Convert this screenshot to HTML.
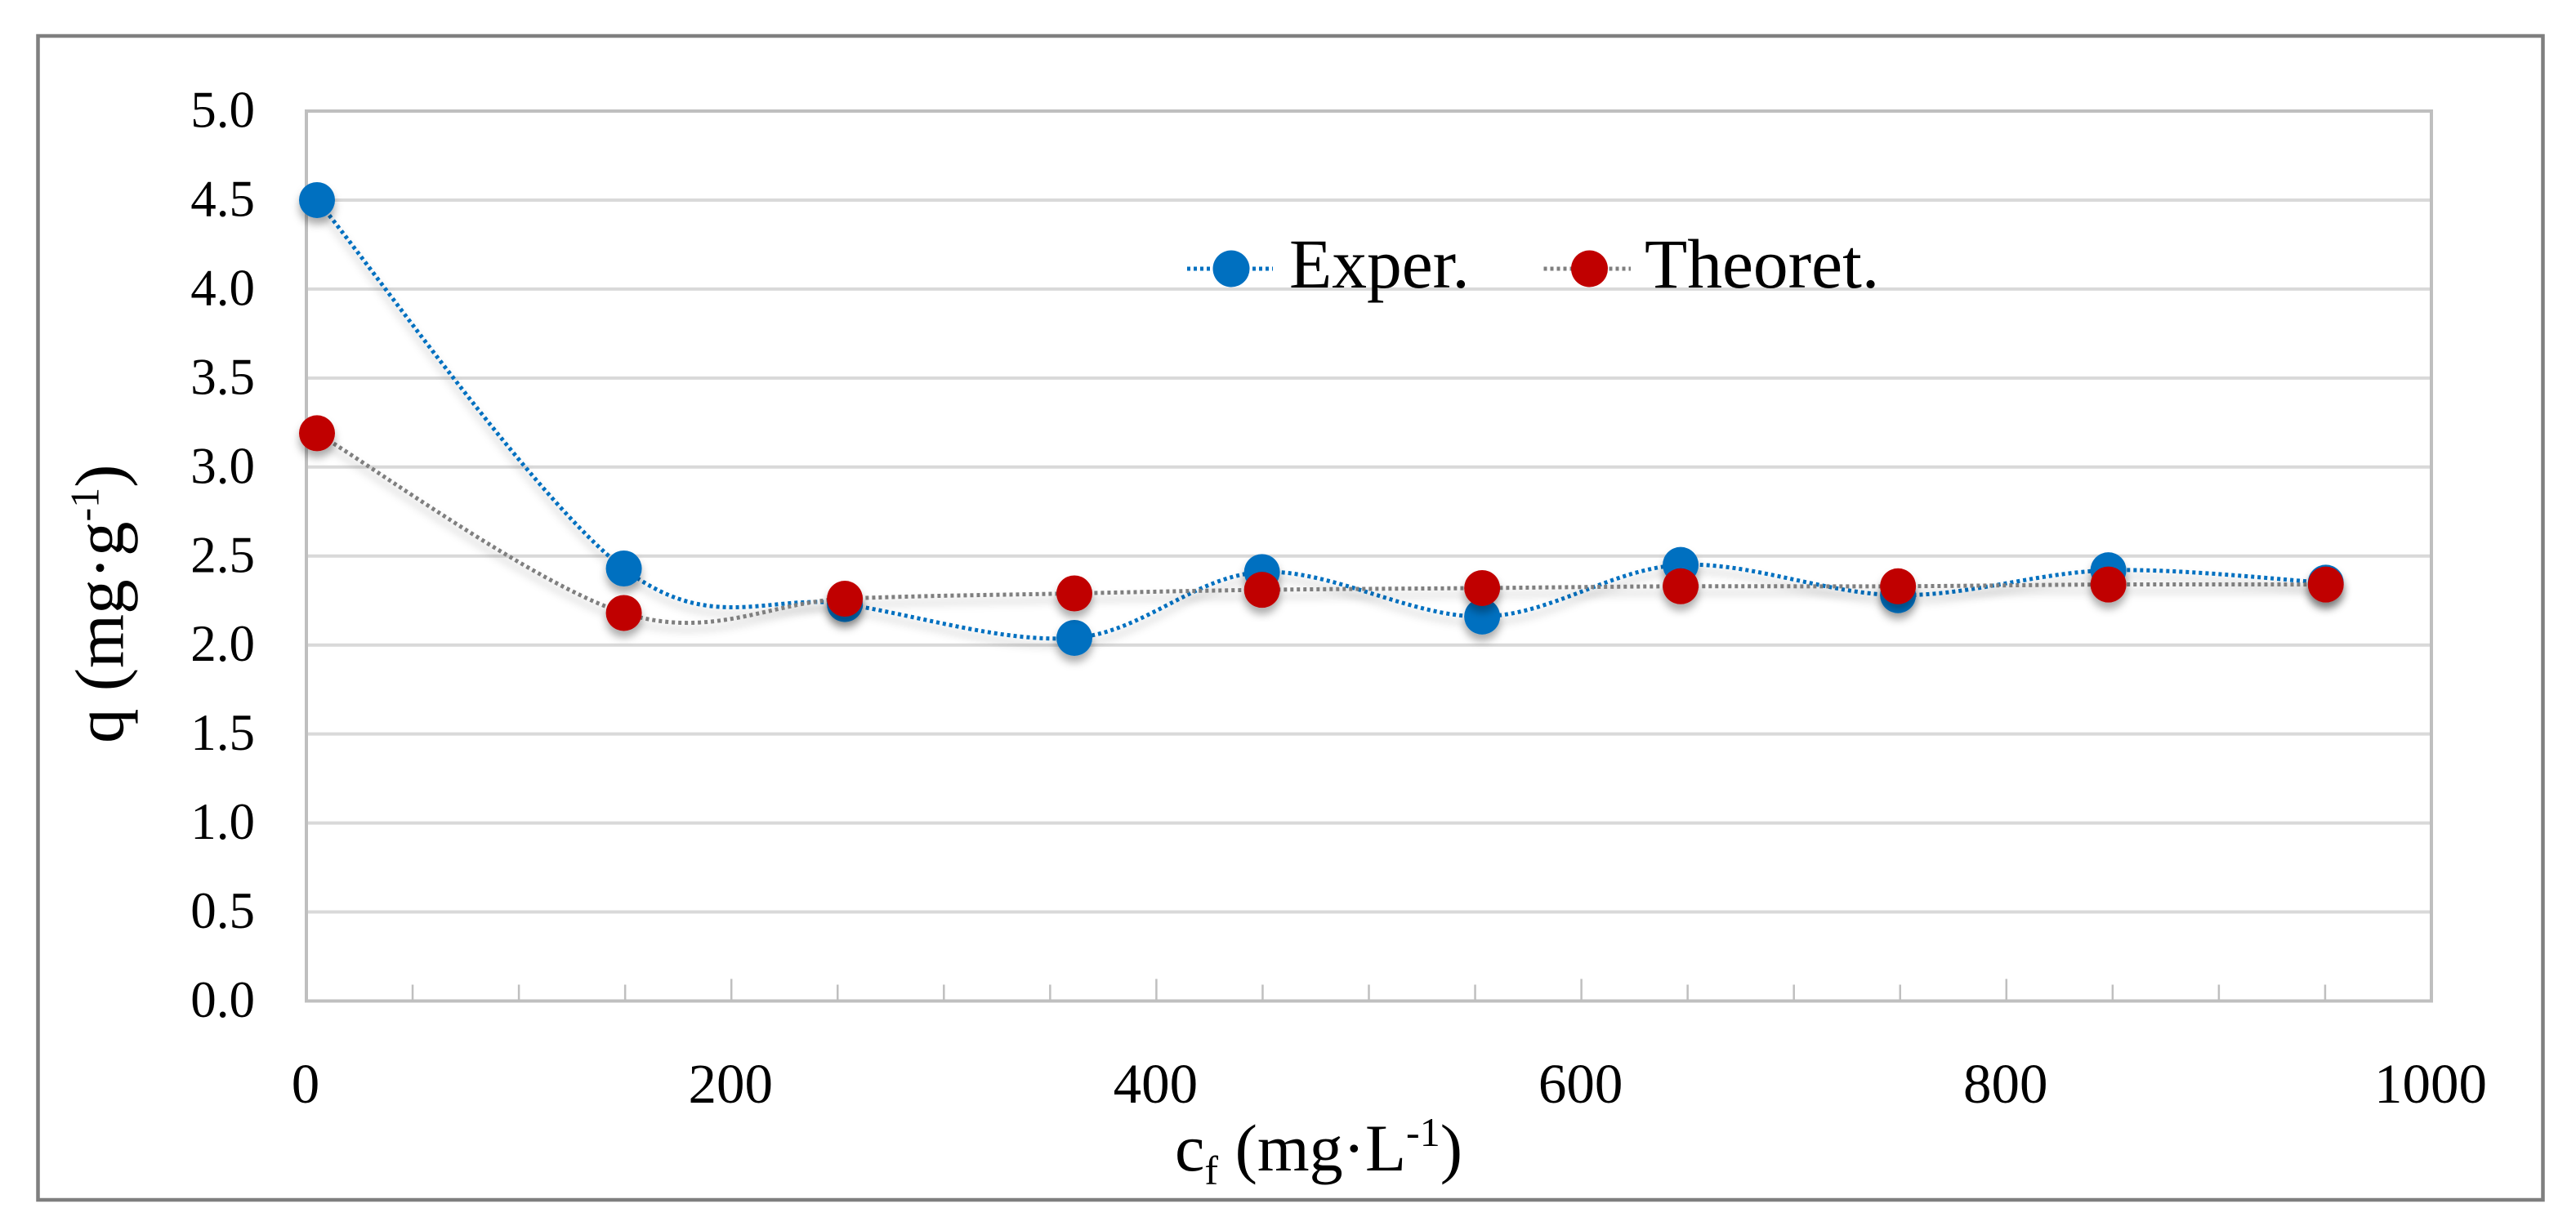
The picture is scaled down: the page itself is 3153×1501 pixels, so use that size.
<!DOCTYPE html>
<html>
<head>
<meta charset="utf-8">
<title>Adsorption chart</title>
<style>
html,body{margin:0;padding:0;background:#fff;width:3153px;height:1501px;overflow:hidden}
svg{display:block}
text{font-family:"Liberation Serif",serif;fill:#000}
</style>
</head>
<body>
<svg id="chart" xmlns="http://www.w3.org/2000/svg" width="3153" height="1501" viewBox="0 0 3153 1501">
<defs>
<filter id="marker-shadow" x="-30%" y="-30%" width="160%" height="170%">
<feDropShadow dx="0" dy="8" stdDeviation="5" flood-color="#000" flood-opacity="0.32"/>
</filter>
</defs>
<rect x="0" y="0" width="3153" height="1501" fill="#fff"/>
<rect x="46.5" y="44" width="3066" height="1425" fill="#fff" stroke="#7f7f7f" stroke-width="4.5"/>
<g id="grid"></g>
<g id="axes"></g>
<g id="series"></g>
<g>
<g>
<line x1="1453" y1="329" x2="1558" y2="329" stroke="#0070c0" stroke-width="5" stroke-dasharray="4 4"/>
<circle cx="1507" cy="329" r="22.5" fill="#0070c0"/>
<text x="1578" y="352" font-size="85.5">Exper.</text>
</g>
<g>
<line x1="1889.5" y1="329" x2="1996" y2="329" stroke="#7f7f7f" stroke-width="5" stroke-dasharray="4 4"/>
<circle cx="1945.5" cy="329" r="22.5" fill="#c00000"/>
<text x="2013" y="352" font-size="85.5">Theoret.</text>
</g>
</g>
<text x="1438" y="1433" font-size="82">c<tspan font-size="50" dy="17">f</tspan><tspan dy="-17"> (mg·L</tspan><tspan font-size="50" dy="-30">-1</tspan><tspan dy="30">)</tspan></text>
<text transform="translate(150.5,910) rotate(-90)" x="0" y="0" font-size="85">q (mg·g<tspan font-size="50" dy="-30">-1</tspan><tspan dy="30">)</tspan></text>
</svg>
<script>
const xValues = [5, 149.4, 253.4, 361.4, 449.7, 553.3, 646.7, 749, 848, 950.3];
const experValues = [4.50, 2.43, 2.23, 2.04, 2.41, 2.16, 2.45, 2.28, 2.42, 2.35];
const theoretValues = [3.19, 2.18, 2.26, 2.29, 2.31, 2.32, 2.33, 2.33, 2.34, 2.34];
const yTicks = [0, 0.5, 1, 1.5, 2, 2.5, 3, 3.5, 4, 4.5, 5];
const xMajorTicks = [0, 200, 400, 600, 800, 1000];
const xMinorTicks = [50, 100, 150, 250, 300, 350, 450, 500, 550, 650, 700, 750, 850, 900, 950];

const NS = 'http://www.w3.org/2000/svg';
const plot = {left: 375, right: 2976, top: 136, bottom: 1225.5};
const xMax = 1000;
const yMax = 5;

function xScale(v) {
  return plot.left + (v / xMax) * (plot.right - plot.left);
}
function yScale(v) {
  return plot.bottom - (v / yMax) * (plot.bottom - plot.top);
}
function make(tag, parent, attrs) {
  const el = document.createElementNS(NS, tag);
  for (const k in attrs) el.setAttribute(k, attrs[k]);
  parent.appendChild(el);
  return el;
}

const gridG = document.getElementById('grid');
const axesG = document.getElementById('axes');
const seriesG = document.getElementById('series');

yTicks.forEach(function (t) {
  const y = yScale(t);
  if (t > 0 && t < yMax) {
    const g = make('line', gridG, {x1: plot.left, x2: plot.right, y1: y, y2: y, stroke: '#d9d9d9', 'stroke-width': 4});
    
    
  }
  const lab = make('text', axesG, {x: 312, y: y + 19.5, 'font-size': 63, 'text-anchor': 'end'});
  lab.textContent = t.toFixed(1);
  
  
});

const border = make('path', axesG, {
  d: 'M' + plot.left + ' ' + plot.bottom + 'V' + plot.top + 'H' + plot.right + 'V' + plot.bottom + 'Z',
  fill: 'none', stroke: '#bfbfbf', 'stroke-width': 4
});



xMinorTicks.forEach(function (t) {
  const x = xScale(t);
  const m = make('line', axesG, {x1: x, x2: x, y1: plot.bottom - 20, y2: plot.bottom, stroke: '#bfbfbf', 'stroke-width': 2.5});
  
  
});
xMajorTicks.forEach(function (t) {
  const x = xScale(t);
  const m = make('line', axesG, {x1: x, x2: x, y1: plot.bottom - 27, y2: plot.bottom, stroke: '#bfbfbf', 'stroke-width': 2.5});
  
  
  const lab = make('text', axesG, {x: x - 1, y: 1350, 'font-size': 69, 'text-anchor': 'middle'});
  lab.textContent = String(t);
  
  
});

function smoothPath(xs, ys) {
  const p = xs.map(function (v, i) { return [xScale(v), yScale(ys[i])]; });
  let d = 'M' + p[0][0] + ' ' + p[0][1];
  for (let i = 0; i < p.length - 1; i++) {
    const a = p[Math.max(i - 1, 0)], b = p[i], c = p[i + 1], e = p[Math.min(i + 2, p.length - 1)];
    const c1x = b[0] + (c[0] - a[0]) / 6, c1y = b[1] + (c[1] - a[1]) / 6;
    const c2x = c[0] - (e[0] - b[0]) / 6, c2y = c[1] - (e[1] - b[1]) / 6;
    d += 'C' + c1x + ' ' + c1y + ' ' + c2x + ' ' + c2y + ' ' + c[0] + ' ' + c[1];
  }
  return d;
}

function drawLine(values, color, name) {
  const path = make('path', seriesG, {
    d: smoothPath(xValues, values), fill: 'none', stroke: color,
    'stroke-width': 5, 'stroke-dasharray': '4 4', filter: 'url(#marker-shadow)'
  });
  
  
}
function drawMarkers(values, color, name) {
  values.forEach(function (v, i) {
    const c = make('circle', seriesG, {
      cx: xScale(xValues[i]), cy: yScale(v), r: 22, fill: color, filter: 'url(#marker-shadow)'
    });
    
    
  });
}

drawLine(experValues, '#0070c0', 'exper-line');
drawLine(theoretValues, '#7f7f7f', 'theoret-line');
drawMarkers(experValues, '#0070c0', 'exper-point');
drawMarkers(theoretValues, '#c00000', 'theoret-point');
</script>
</body>
</html>
